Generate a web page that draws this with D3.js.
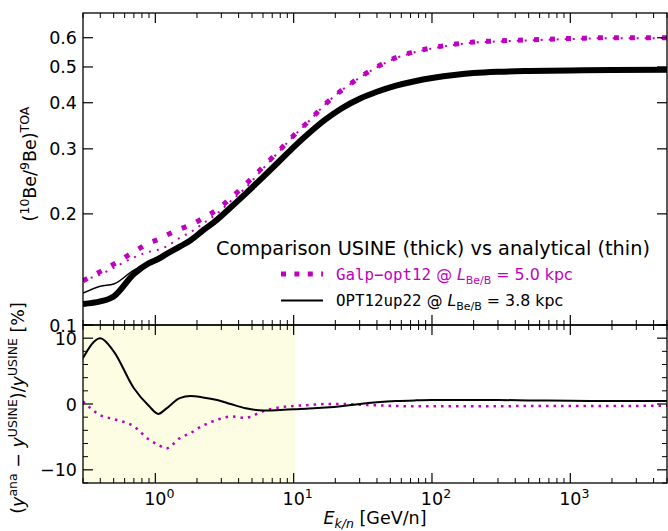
<!DOCTYPE html>
<html>
<head>
<meta charset="utf-8">
<script src="https://cdn.jsdelivr.net/npm/d3@7"></script>
<style>
  body { margin: 0; background: #fff; }
  text { font-family: "DejaVu Sans", sans-serif; fill: #000; }
  .mono { font-family: "DejaVu Sans Mono", monospace; }
</style>
</head>
<body>
<svg id="chart" width="668" height="531"></svg>
<script>
// energies [GeV/n]
const energy = [0.3, 0.4, 0.5, 0.7, 0.9, 1.05, 1.2, 1.5, 1.8, 2.2, 2.8, 3.5, 4.5, 6, 8, 10,
  13, 17, 22, 30, 40, 55, 75, 100, 150, 200, 300, 500, 1000, 2000, 5000];

// 10Be/9Be, USINE (thick) and analytical (thin)
const usineOpt = [0.114, 0.1158, 0.1195, 0.1375, 0.147, 0.151, 0.1556, 0.163, 0.1697, 0.1801, 0.193, 0.208,
  0.2269, 0.2516, 0.2794, 0.3033, 0.3316, 0.3604, 0.3854, 0.4101, 0.4282, 0.4449, 0.4575, 0.4668, 0.4764,
  0.4812, 0.4851, 0.4876, 0.4893, 0.4903, 0.4912];
const anaOpt = [0.122, 0.1274, 0.1291, 0.1408, 0.1466, 0.1487, 0.1545, 0.1645, 0.1717, 0.1819, 0.1942,
  0.208, 0.2254, 0.2491, 0.2769, 0.3009, 0.3293, 0.3584, 0.3841, 0.4101, 0.4293, 0.4469, 0.46, 0.4696,
  0.4793, 0.4841, 0.488, 0.4903, 0.4917, 0.4925, 0.4934];
const usineGalp = [0.1318, 0.1395, 0.1462, 0.1578, 0.1668, 0.1705, 0.175, 0.1818, 0.1867, 0.1945, 0.2055,
  0.2205, 0.2405, 0.268, 0.299, 0.326, 0.358, 0.397, 0.431, 0.468, 0.500, 0.530, 0.550, 0.563, 0.577,
  0.584, 0.588, 0.592, 0.597, 0.600, 0.600];
const anaGalp = [0.1323, 0.1371, 0.1428, 0.1524, 0.1578, 0.1599, 0.1632, 0.1723, 0.1785, 0.1881, 0.2006,
  0.2163, 0.2354, 0.2651, 0.2975, 0.3250, 0.3575, 0.397, 0.431, 0.4675, 0.499, 0.5284, 0.5481, 0.561,
  0.575, 0.582, 0.586, 0.5902, 0.5952, 0.5982, 0.5985];

// relative difference [%]
const relOpt = [7.0, 10.0, 8.0, 2.4, -0.3, -1.5, -0.7, 0.9, 1.2, 1.0, 0.6, 0.0, -0.65, -1.0, -0.9, -0.8,
  -0.7, -0.55, -0.35, 0.0, 0.25, 0.45, 0.55, 0.6, 0.6, 0.6, 0.6, 0.55, 0.5, 0.45, 0.45];
const relGalp = [0.4, -1.7, -2.3, -3.4, -5.4, -6.2, -6.75, -5.2, -4.4, -3.3, -2.4, -1.9, -2.1, -1.1, -0.5,
  -0.3, -0.15, 0.0, 0.0, -0.1, -0.2, -0.3, -0.35, -0.35, -0.35, -0.35, -0.35, -0.3, -0.3, -0.3, -0.25];

const xMajor = [1, 10, 100, 1000];
const xMajorExp = ["0", "1", "2", "3"];
const xMinor = [0.3, 0.4, 0.5, 0.6, 0.7, 0.8, 0.9, 2, 3, 4, 5, 6, 7, 8, 9, 20, 30, 40, 50, 60, 70, 80, 90,
  200, 300, 400, 500, 600, 700, 800, 900, 2000, 3000, 4000, 5000];
const yTopTicks = [0.1, 0.2, 0.3, 0.4, 0.5, 0.6];
const yTopLabels = ["0.1", "0.2", "0.3", "0.4", "0.5", "0.6"];
const yBotTicks = [-10, 0, 10];
const yBotLabels = ["\u221210", "0", "10"];
const yBotMinor = [-12, -8, -6, -4, -2, 2, 4, 6, 8, 12];
const shadeRange = [0.3, 10.3];

const magenta = "#bf00bf";
const L = 83, R = 667, T = 13, M = 325, B = 483;

const svg = d3.select("#chart");

const x = d3.scaleLog().domain([0.3, 5000]).range([L, R]);
const yTop = d3.scaleLog().domain([0.1, 0.7]).range([M, T]);
const yBot = d3.scaleLinear().domain([-12, 12]).range([B, M]);

const defs = svg.append("defs");
defs.append("clipPath").attr("id", "clipTop").append("rect")
  .attr("x", L).attr("y", T).attr("width", R - L).attr("height", M - T);
defs.append("clipPath").attr("id", "clipBot").append("rect")
  .attr("x", L).attr("y", M).attr("width", R - L).attr("height", B - M);

// shaded band
svg.append("rect")
  .attr("x", x(shadeRange[0])).attr("y", M)
  .attr("width", x(shadeRange[1]) - x(shadeRange[0])).attr("height", B - M)
  .attr("fill", "#fdfde3");

const rows = energy.map((e, i) => ({ e, i }));
const lineTop = arr => d3.line().curve(d3.curveMonotoneX).x(d => x(d.e)).y(d => yTop(arr[d.i]));
const lineBot = arr => d3.line().curve(d3.curveMonotoneX).x(d => x(d.e)).y(d => yBot(arr[d.i]));

const gTop = svg.append("g").attr("clip-path", "url(#clipTop)");
gTop.append("path").attr("d", lineTop(usineGalp)(rows))
  .attr("fill", "none").attr("stroke", magenta).attr("stroke-width", 5).attr("stroke-dasharray", "5 11");
gTop.append("path").attr("d", lineTop(anaGalp)(rows))
  .attr("fill", "none").attr("stroke", magenta).attr("stroke-width", 2).attr("stroke-dasharray", "2 6");
gTop.append("path").attr("d", lineTop(usineOpt)(rows))
  .attr("fill", "none").attr("stroke", "#000").attr("stroke-width", 6);
gTop.append("path").attr("d", lineTop(anaOpt)(rows))
  .attr("fill", "none").attr("stroke", "#000").attr("stroke-width", 1.5);

const gBot = svg.append("g").attr("clip-path", "url(#clipBot)");
gBot.append("path").attr("d", lineBot(relGalp)(rows))
  .attr("fill", "none").attr("stroke", magenta).attr("stroke-width", 2.5).attr("stroke-dasharray", "2.5 5");
gBot.append("path").attr("d", lineBot(relOpt)(rows))
  .attr("fill", "none").attr("stroke", "#000").attr("stroke-width", 2);

// ticks (inward, all sides)
function axisX(y0, dir) {
  const g = svg.append("g");
  g.selectAll(".maj").data(xMajor).join("line")
    .attr("x1", d => x(d)).attr("x2", d => x(d)).attr("y1", y0).attr("y2", y0 + dir * 10)
    .attr("stroke", "#000").attr("stroke-width", 1.2);
  g.selectAll(".min").data(xMinor).join("line")
    .attr("x1", d => x(d)).attr("x2", d => x(d)).attr("y1", y0).attr("y2", y0 + dir * 5)
    .attr("stroke", "#000").attr("stroke-width", 1);
}
axisX(T, 1); axisX(M, -1); axisX(M, 1); axisX(B, -1);

function axisY(scale, vals, len) {
  const g = svg.append("g");
  [[L, 1], [R, -1]].forEach(([x0, dir]) => {
    g.append("g").selectAll("line").data(vals).join("line")
      .attr("x1", x0).attr("x2", x0 + dir * len).attr("y1", d => scale(d)).attr("y2", d => scale(d))
      .attr("stroke", "#000").attr("stroke-width", len > 6 ? 1.2 : 1);
  });
}
axisY(yTop, yTopTicks, 10);
axisY(yBot, yBotTicks, 10);
axisY(yBot, yBotMinor, 5);

// spines
svg.append("rect").attr("x", L).attr("y", T).attr("width", R - L).attr("height", M - T)
  .attr("fill", "none").attr("stroke", "#000").attr("stroke-width", 1.3);
svg.append("rect").attr("x", L).attr("y", M).attr("width", R - L).attr("height", B - M)
  .attr("fill", "none").attr("stroke", "#000").attr("stroke-width", 1.3);

// tick labels
svg.append("g").selectAll("text").data(yTopTicks).join("text")
  .attr("x", L - 6).attr("y", d => yTop(d) + 6.5).attr("text-anchor", "end")
  .style("font-size", "17.5px").text((d, i) => yTopLabels[i]);
svg.append("g").selectAll("text").data(yBotTicks).join("text")
  .attr("x", L - 6).attr("y", d => yBot(d) + 6.5).attr("text-anchor", "end")
  .style("font-size", "17.5px").text((d, i) => yBotLabels[i]);
const xl = svg.append("g").selectAll("text").data(xMajor).join("text")
  .attr("x", d => x(d) + 4).attr("y", B + 22).attr("text-anchor", "middle")
  .style("font-size", "17.5px");
xl.append("tspan").text("10");
xl.append("tspan").attr("dy", -7).style("font-size", "12.5px").text((d, i) => xMajorExp[i]);

// axis titles
const xt = svg.append("text").attr("x", 375).attr("y", 524).attr("text-anchor", "middle")
  .style("font-size", "17.5px");
xt.append("tspan").style("font-style", "italic").text("E");
xt.append("tspan").attr("dy", 4).style("font-size", "12.5px").style("font-style", "italic").text("k/n");
xt.append("tspan").attr("dy", -4).text(" [GeV/n]");

const yt = svg.append("text").attr("transform", "translate(36,164) rotate(-90)")
  .attr("text-anchor", "middle").style("font-size", "17.5px");
yt.append("tspan").text("(");
yt.append("tspan").attr("dy", -7).style("font-size", "12.5px").text("10");
yt.append("tspan").attr("dy", 7).text("Be/");
yt.append("tspan").attr("dy", -7).style("font-size", "12.5px").text("9");
yt.append("tspan").attr("dy", 7).text("Be)");
yt.append("tspan").attr("dy", -7).style("font-size", "12.5px").text("TOA");

const yb = svg.append("text").attr("transform", "translate(24,408) rotate(-90)")
  .attr("text-anchor", "middle").style("font-size", "17.5px");
yb.append("tspan").text("(");
yb.append("tspan").style("font-style", "italic").text("y");
yb.append("tspan").attr("dy", -7).style("font-size", "12.5px").text("ana");
yb.append("tspan").attr("dy", 7).text(" \u2212 ");
yb.append("tspan").style("font-style", "italic").text("y");
yb.append("tspan").attr("dy", -7).style("font-size", "12.5px").text("USINE");
yb.append("tspan").attr("dy", 7).text(")/");
yb.append("tspan").style("font-style", "italic").text("y");
yb.append("tspan").attr("dy", -7).style("font-size", "12.5px").text("USINE");
yb.append("tspan").attr("dy", 7).text(" [%]");

// legend
svg.append("text").attr("x", 433).attr("y", 255).attr("text-anchor", "middle")
  .style("font-size", "19.3px").text("Comparison USINE (thick) vs analytical (thin)");

const legend = [
  { name: "Galp\u2212opt12", L: "5.0", color: magenta, y: 274, dash: "5 8.4", w: 5 },
  { name: "OPT12up22", L: "3.8", color: "#000", y: 300.5, dash: null, w: 2 }
];
legend.forEach(d => {
  svg.append("line").attr("x1", 281).attr("x2", 323).attr("y1", d.y).attr("y2", d.y)
    .attr("stroke", d.color).attr("stroke-width", d.w).attr("stroke-dasharray", d.dash);
  const t = svg.append("text").attr("x", 336).attr("y", d.y + 5.5).style("font-size", "15.8px")
    .style("fill", d.color);
  t.append("tspan").attr("class", "mono").text(d.name);
  t.append("tspan").text(" @ ");
  t.append("tspan").style("font-style", "italic").text("L");
  t.append("tspan").attr("dy", 4).style("font-size", "11px").text("Be/B");
  t.append("tspan").attr("dy", -4).text(" = " + d.L + " kpc");
});
</script>
</body>
</html>
